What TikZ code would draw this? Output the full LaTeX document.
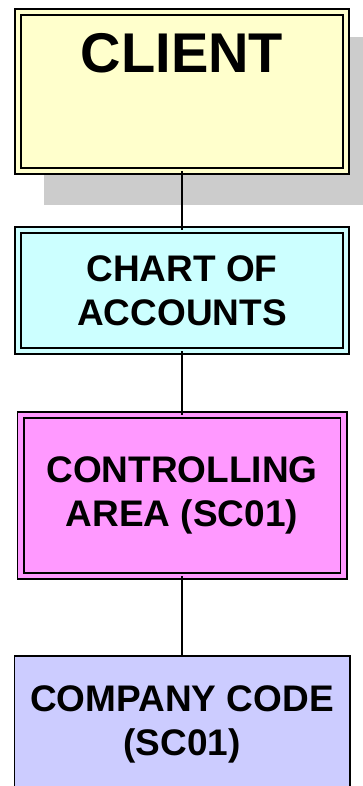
\documentclass[tikz,border=0pt]{standalone}
\usepackage{fontspec}
\setmainfont{Liberation Sans}
\usetikzlibrary{positioning,shadows}

\definecolor{clientyellow}{HTML}{FFFFCC}
\definecolor{chartcyan}{HTML}{CCFFFF}
\definecolor{areapink}{HTML}{FF99FF}
\definecolor{companyblue}{HTML}{CCCCFF}
\definecolor{shadowgray}{HTML}{CCCCCC}

\begin{document}
\begin{tikzpicture}[x=1pt,y=-1pt,
  box/.style={draw=black, line width=1.8pt, outer sep=0pt, inner sep=0pt, minimum width=328pt, align=center, font=\fontsize{37}{44}\selectfont\bfseries},
  doublebox/.style={box, fill=#1, double=#1, double distance=4.4pt},
  link/.style={line width=2.5pt}]
 \useasboundingbox (0,0) rectangle (362,786);

 %Boxes
 \node (client) [doublebox=clientyellow, minimum height=159pt, drop shadow={shadow xshift=34pt, shadow yshift=-28pt, shadow scale=1.058, fill=shadowgray, opacity=1}] at (182,91.5) {};
 \node (chart) [doublebox=chartcyan, minimum height=121pt, below=59pt of client] {CHART OF\\ACCOUNTS};
 \node (area) [doublebox=areapink, minimum width=323pt, minimum height=161pt, below=64pt of chart] {CONTROLLING\\AREA (SC01)};
 \node (company) [box, fill=companyblue, minimum width=335.2pt, minimum height=138pt, below=79.9pt of area] {COMPANY CODE\\(SC01)};

 %Name
 \node (clientname) [inner sep=0pt, font=\fontsize{56}{60}\selectfont\bfseries, below=21pt of client.north] {CLIENT};

 %Links
 \draw[link] (client) -- (chart);
 \draw[link] (chart) -- (area);
 \draw[link] (area) -- (company);

\end{tikzpicture}
\end{document}
